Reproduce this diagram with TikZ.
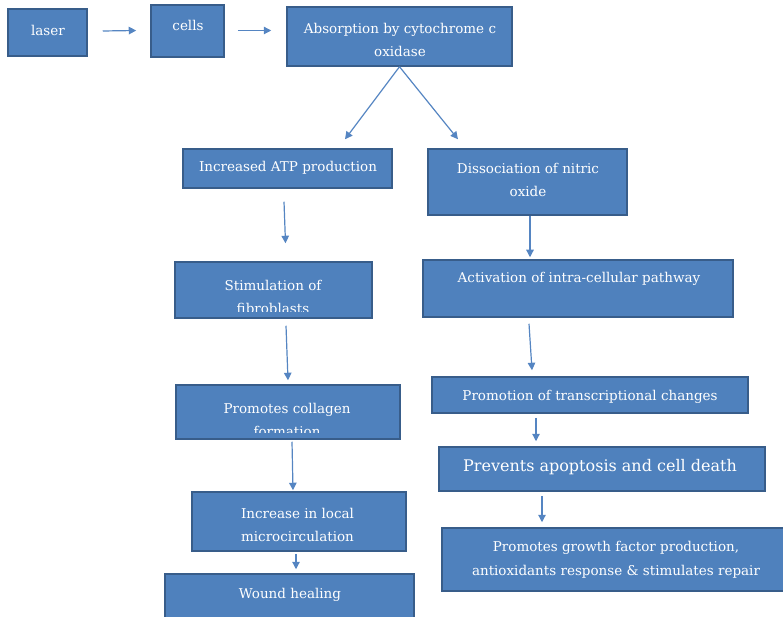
\documentclass[tikz,border=0pt]{standalone}
\usepackage{fontspec}
\setmainfont{DejaVu Serif}
\usetikzlibrary{arrows.meta}
\definecolor{boxfill}{HTML}{4F81BD}
\definecolor{boxline}{HTML}{385D8A}
\definecolor{arrowc}{HTML}{5585C2}
\begin{document}
\begin{tikzpicture}[x=1pt,y=-1pt,
  box/.style={draw=boxline, fill=boxfill, line width=1.5pt, inner sep=0pt},
  txt/.style={text=white, align=center, font=\fontsize{13.5}{23.5}\selectfont, inner sep=0pt},
  bigtxt/.style={text=white, align=center, font=\fontsize{16}{20}\selectfont, inner sep=0pt},
  arr/.style={draw=arrowc, line width=1.2pt, -{Triangle[length=7.5pt,width=7.5pt]}}]
\useasboundingbox (0,0) rectangle (783,617);
% boxes
\node[box, minimum width=79pt, minimum height=47pt] (laser) at (47.5,32.5) {};
\node[box, minimum width=73pt, minimum height=52pt] (cells) at (187.5,31) {};
\node[box, minimum width=225pt, minimum height=59pt] (absorb) at (399.5,36.5) {};
\node[box, minimum width=209pt, minimum height=39pt] (atp) at (287.5,168.5) {};
\node[box, minimum width=199pt, minimum height=66pt] (dissoc) at (527.5,182) {};
\node[box, minimum width=197pt, minimum height=56pt] (stim) at (273.5,290) {};
\node[box, minimum width=310pt, minimum height=57pt] (activ) at (578,288.5) {};
\node[box, minimum width=224pt, minimum height=54pt] (collagen) at (288,412) {};
\node[box, minimum width=316pt, minimum height=36pt] (transcr) at (590,395) {};
\node[box, minimum width=326pt, minimum height=44pt] (prevents) at (602,469) {};
\node[box, minimum width=214pt, minimum height=59pt] (increase) at (299,521.5) {};
\node[box, minimum width=358pt, minimum height=63pt] (growth) at (621,559.5) {};
\node[box, minimum width=249pt, minimum height=60pt] (wound) at (289.5,604) {};
% texts
\node[txt] (tlaser) at (48,30) {laser};
\node[txt] (tcells) at (188,25) {cells};
\node[txt] (tabsorb) at (400,40) {Absorption by cytochrome c\\oxidase};
\node[txt] (tatp) at (288,168) {Increased ATP production};
\node[txt] (tdissoc) at (528,180) {Dissociation of nitric\\oxide};
\begin{scope}
  \clip (175,262) rectangle (372,311);
  \node[txt] (tstim) at (273,297) {Stimulation of\\fibroblasts};
\end{scope}
\node[txt] (tactiv) at (579,279) {Activation of intra-cellular pathway};
\begin{scope}
  \clip (176,385) rectangle (400,432);
  \node[txt] (tcollagen) at (287,420) {Promotes collagen\\formation};
\end{scope}
\node[txt] (ttranscr) at (590,397) {Promotion of transcriptional changes};
\node[bigtxt] (tprevents) at (600,467) {Prevents apoptosis and cell death};
\node[txt] (tincrease) at (297.5,525) {Increase in local\\microcirculation};
\node[txt] (tgrowth) at (616,560) {Promotes growth factor production,\\antioxidants response \& stimulates repair};
\node[txt] (twound) at (290,595) {Wound healing};
% arrows
\draw[arr] ([shift={(15,-1.5)}]laser.east) -- ([shift={(-14,-0.5)}]cells.west);
\draw[arr] ([shift={(13,-0.5)}]cells.east) -- ([shift={(-15,-6)}]absorb.west);
\draw[arr] (absorb.south) -- ([shift={(57.5,-9)}]atp.north);
\draw[arr] (absorb.south) -- ([shift={(-69.5,-9)}]dissoc.north);
\draw[arr] ([shift={(-3.5,13)}]atp.south) -- ([shift={(-2,-18)}]stim.north -| atp.south);
\draw[arr] ([shift={(2.5,0)}]dissoc.south) -- ([shift={(-48,-2)}]activ.north);
\draw[arr] ([shift={(12.5,7)}]stim.south) -- ([shift={(0,-4)}]collagen.north);
\draw[arr] ([shift={(-49,6)}]activ.south) -- ([shift={(-58,-6)}]transcr.north);
\draw[arr] ([shift={(4,2)}]collagen.south) -- ([shift={(-6,-1)}]increase.north);
\draw[arr] ([shift={(-54,4)}]transcr.south) -- ([shift={(-66,-5)}]prevents.north);
\draw[arr] ([shift={(-60,4)}]prevents.south) -- ([shift={(-79,-5)}]growth.north);
\draw[arr] ([shift={(-3,2)}]increase.south) -- ([shift={(6.5,-4)}]wound.north);
\end{tikzpicture}
\end{document}
